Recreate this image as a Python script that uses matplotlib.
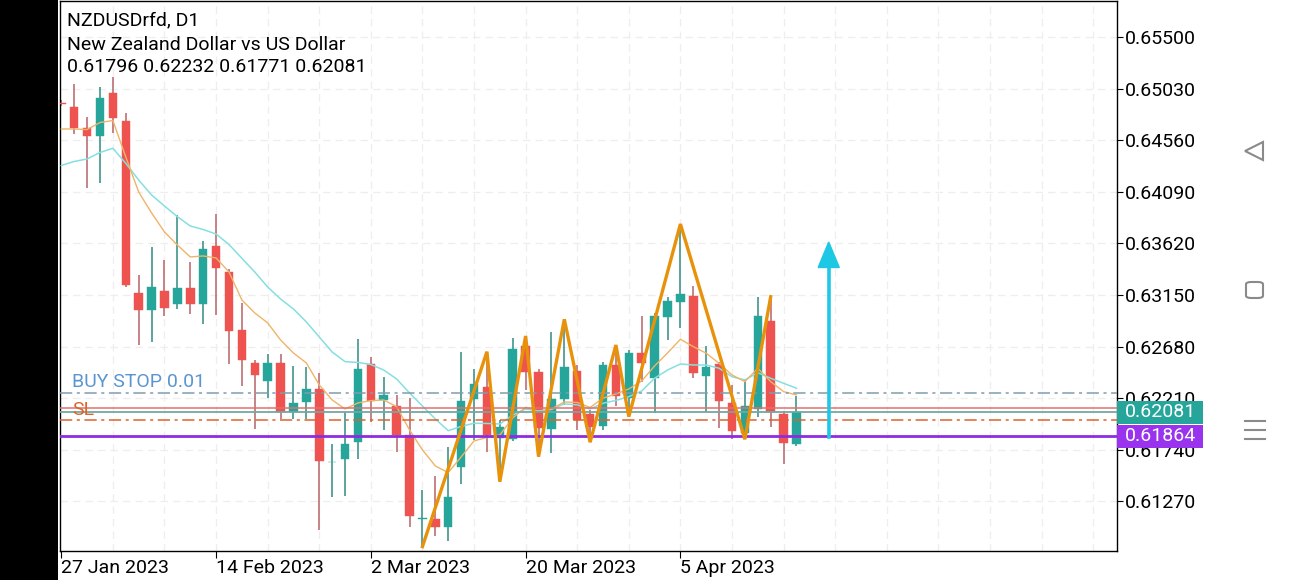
import matplotlib
matplotlib.use("Agg")
import matplotlib.pyplot as plt
import matplotlib.transforms as mtransforms
from matplotlib.patches import Rectangle, Polygon, FancyBboxPatch
import numpy as np

plt.rcParams["font.family"] = ["Roboto", "DejaVu Sans"]

# ── OHLC, one row per daily bar (index 0 = 27 Jan 2023) ──
opens = [0.64900, 0.64865, 0.64668, 0.64601, 0.64987, 0.64738, 0.63165, 0.63013, 0.63189, 0.63068,
         0.63211, 0.63065, 0.63599, 0.63362, 0.62831, 0.62527, 0.62366, 0.62527, 0.62087, 0.62172,
         0.62296, 0.61626, 0.61653, 0.61808, 0.62521, 0.62193, 0.62141, 0.61874, 0.61110, 0.61109,
         0.61039, 0.61580, 0.62199, 0.62309, 0.61851, 0.61835, 0.62685, 0.62451, 0.61926, 0.62199,
         0.62457, 0.62066, 0.61956, 0.62512, 0.62209, 0.62619, 0.62391, 0.62952, 0.63089, 0.63140,
         0.62414, 0.62518, 0.62169, 0.61895, 0.62111, 0.62916, 0.62066, 0.61796]
highs = [0.64930, 0.65072, 0.64774, 0.65042, 0.65136, 0.64805, 0.63332, 0.63584, 0.63468, 0.63878,
         0.63453, 0.63644, 0.63888, 0.63384, 0.63081, 0.62553, 0.62612, 0.62612, 0.62506, 0.62496,
         0.62436, 0.61789, 0.62087, 0.62746, 0.62588, 0.62400, 0.62239, 0.62209, 0.61373, 0.61498,
         0.61765, 0.62633, 0.62473, 0.62633, 0.62011, 0.62761, 0.62776, 0.62473, 0.62815, 0.62928,
         0.62512, 0.62102, 0.62542, 0.62694, 0.62649, 0.62961, 0.62986, 0.63134, 0.63796, 0.63232,
         0.62688, 0.62542, 0.62330, 0.62384, 0.63134, 0.63134, 0.62096, 0.62232]
lows = [0.64870, 0.64616, 0.64122, 0.64167, 0.64623, 0.63225, 0.62694, 0.62724, 0.62958, 0.63019,
        0.62977, 0.62885, 0.62963, 0.62521, 0.62323, 0.61929, 0.62209, 0.62023, 0.62017, 0.62023,
        0.61010, 0.61307, 0.61321, 0.61653, 0.61990, 0.61920, 0.61722, 0.61033, 0.60857, 0.60954,
        0.60911, 0.61428, 0.61824, 0.61722, 0.61449, 0.61820, 0.62284, 0.61677, 0.61713, 0.62148,
        0.61920, 0.61808, 0.61920, 0.62138, 0.62041, 0.62360, 0.62072, 0.62740, 0.62846, 0.62396,
        0.62087, 0.61935, 0.61835, 0.61835, 0.62035, 0.61950, 0.61610, 0.61771]
closes = [0.64890, 0.64674, 0.64598, 0.64942, 0.64759, 0.63241, 0.63013, 0.63225, 0.63028, 0.63216,
          0.63068, 0.63569, 0.63393, 0.62822, 0.62553, 0.62421, 0.62527, 0.62087, 0.62163, 0.62293,
          0.61637, 0.61632, 0.61792, 0.62475, 0.62187, 0.62239, 0.61874, 0.61136, 0.61115, 0.61036,
          0.61312, 0.62187, 0.62336, 0.61874, 0.61950, 0.62655, 0.62451, 0.61935, 0.62202, 0.62496,
          0.62011, 0.61950, 0.62512, 0.62230, 0.62619, 0.62527, 0.62958, 0.63095, 0.63159, 0.62436,
          0.62496, 0.62184, 0.61913, 0.62138, 0.62958, 0.62087, 0.61799, 0.62081]

# fast (orange) and slow (cyan) moving averages, read per bar
ma_fast = [0.64662, 0.64662, 0.64657, 0.64721, 0.64739, 0.64407, 0.64088, 0.63897, 0.63724, 0.63605,
           0.63496, 0.63505, 0.63487, 0.63359, 0.63104, 0.62986, 0.62895, 0.62740, 0.62621, 0.62530,
           0.62330, 0.62193, 0.62111, 0.62166, 0.62187, 0.62193, 0.62132, 0.61920, 0.61738, 0.61592,
           0.61531, 0.61674, 0.61820, 0.61851, 0.61874, 0.62029, 0.62127, 0.62087, 0.62111, 0.62175,
           0.62170, 0.62125, 0.62209, 0.62248, 0.62293, 0.62366, 0.62503, 0.62621, 0.62746, 0.62679,
           0.62619, 0.62527, 0.62421, 0.62360, 0.62482, 0.62360, 0.62269, 0.62239]
ma_slow = [0.64329, 0.64366, 0.64389, 0.64448, 0.64486, 0.64349, 0.64197, 0.64061, 0.63960, 0.63863,
           0.63778, 0.63746, 0.63705, 0.63610, 0.63484, 0.63359, 0.63222, 0.63113, 0.63022, 0.62904,
           0.62767, 0.62630, 0.62542, 0.62535, 0.62516, 0.62466, 0.62384, 0.62257, 0.62138, 0.62020,
           0.61913, 0.61952, 0.61981, 0.61979, 0.61974, 0.62056, 0.62111, 0.62093, 0.62107, 0.62157,
           0.62148, 0.62111, 0.62163, 0.62189, 0.62223, 0.62275, 0.62391, 0.62466, 0.62521, 0.62512,
           0.62512, 0.62482, 0.62405, 0.62375, 0.62442, 0.62391, 0.62345, 0.62300]

# zigzag swing points (bar index, price)
zz_idx = [28, 33, 34, 36, 37, 39, 41, 43, 44, 48, 53, 55]
zz_price = [0.60857, 0.62633, 0.61449, 0.62776, 0.61677, 0.62928, 0.61808, 0.62694, 0.62041,
            0.63796, 0.61835, 0.63134]

# order / price levels
buy_stop = 0.62254
ask = 0.62118
bid = 0.62081
sl = 0.62010
level_purple = 0.61864

# arrow (bar index, from price, to price)
arrow_x = 59.5
arrow_from = 0.61859
arrow_to = 0.63632

yticks = [0.61270, 0.61740, 0.62210, 0.62680, 0.63150, 0.63620, 0.64090, 0.64560, 0.65030, 0.65500]
date_idx = [0, 12, 24, 36, 48]
date_labels = ["27 Jan 2023", "14 Feb 2023", "2 Mar 2023", "20 Mar 2023", "5 Apr 2023"]

UP = "#26a69a"
DOWN = "#ef5350"
FS = 14

W, H = 1290, 580
fig = plt.figure(figsize=(W / 100, H / 100), dpi=100)
fig.patch.set_facecolor("white")
fig.patches.append(Rectangle((0, 0), 58 / W, 1, transform=fig.transFigure,
                             facecolor="black", edgecolor="none", zorder=0))

ax = fig.add_axes([60 / W, 29 / H, 1057 / W, 550 / H])
ax.set_xlim(-0.1, 81.85)
ax.set_ylim(0.60817, 0.65828)

# grid
for gx in range(4, 82, 4):
    ax.axvline(gx, color="#eeeeee", lw=0.9, ls=(0, (6, 4)), zorder=0)
for gy in yticks:
    ax.axhline(gy, color="#eeeeee", lw=0.9, ls=(0, (6, 4)), zorder=0)

# candles
x = np.arange(len(opens))
o = np.array(opens); c = np.array(closes)
colors = [UP if cc >= oo else DOWN for oo, cc in zip(o, c)]
wick_colors = ["#4f9d94" if cc >= oo else "#c07a7e" for oo, cc in zip(o, c)]
ax.vlines(x, lows, highs, colors=wick_colors, lw=1.3, zorder=2)
body_lo = np.minimum(o, c)
body_h = np.maximum(np.abs(c - o), 0.00003)
ax.bar(x, body_h, bottom=body_lo, width=0.66, color=colors, edgecolor=colors, lw=0.3, zorder=3)

# moving averages
ax.plot(x, ma_slow, color="#86dfe0", lw=1.1, zorder=4)
ax.plot(x, ma_fast, color="#efb468", lw=1.0, zorder=4)

# horizontal levels
ax.axhline(buy_stop, color="#7f9cb0", lw=1.1, ls=(0, (8, 3, 2, 3)), zorder=5)
ax.axhline(ask, color="#e07070", lw=1.1, zorder=5)
ax.axhline(bid, color="#74a8a0", lw=1.3, zorder=5)
ax.axhline(sl, color="#e0602c", lw=1.1, ls=(0, (8, 3, 2, 3)), zorder=5)
ax.axhline(level_purple, color="#8e2be0", lw=2, zorder=5)

ax.text(0.85, 0.62357, "BUY STOP 0.01", color="#5b95d0", fontsize=FS, va="center", ha="left", zorder=6)
ax.text(0.85, 0.62102, "SL", color="#d9652b", fontsize=FS, va="center", ha="left", zorder=6)

# zigzag
ax.plot(zz_idx, zz_price, color="#e8920c", lw=2.4, zorder=6, solid_joinstyle="miter")

# arrow
head_base = arrow_to - 0.00232
ax.plot([arrow_x, arrow_x], [arrow_from, head_base], color="#1ec8e4", lw=2.6, zorder=7)
ax.add_patch(Polygon([[arrow_x - 0.82, head_base], [arrow_x + 0.82, head_base], [arrow_x, arrow_to]],
                     closed=True, color="#1ec8e4", zorder=7))

# axes styling
for s in ax.spines.values():
    s.set_color("black")
    s.set_linewidth(1.0)
ax.yaxis.tick_right()
ax.set_yticks(yticks)
ax.set_yticklabels([f"{v:.5f}" for v in yticks])
ax.set_xticks(date_idx)
ax.set_xticklabels(date_labels, ha="left")
ax.tick_params(axis="y", direction="out", length=4, pad=2, labelsize=FS, colors="black")
ax.tick_params(axis="x", direction="out", length=5, pad=1, labelsize=FS, colors="black")
for lab in ax.get_xticklabels():
    lab.set_horizontalalignment("left")

# price boxes on the right scale
trans = mtransforms.blended_transform_factory(ax.transAxes, ax.transData)
box_w = 86 / 1057
px = (0.65828 - 0.60817) / 550
ax.add_patch(Rectangle((1.0, ask - 2 * px), box_w, 3 * px, transform=trans,
                       facecolor="#e05c5c", edgecolor="none", clip_on=False, zorder=10))
for val, col in [(bid, "#26a69a"), (level_purple, "#9933ee")]:
    ax.add_patch(Rectangle((1.0, val - 11.5 * px), box_w, 23 * px, transform=trans,
                           facecolor=col, edgecolor="none", clip_on=False, zorder=10))
    ax.text(1.0 + box_w / 2, val, f"{val:.5f}", transform=trans, color="white",
            fontsize=FS, ha="center", va="center", zorder=11, clip_on=False)

# header
ax.text(7 / 1057, 1 - 19 / 550, "NZDUSDrfd, D1", transform=ax.transAxes, fontsize=FS, va="center")
ax.text(7 / 1057, 1 - 44 / 550, "New Zealand Dollar vs US Dollar", transform=ax.transAxes,
        fontsize=FS, va="center")
ax.text(7 / 1057, 1 - 66 / 550, f"{opens[-1]:.5f} {highs[-1]:.5f} {lows[-1]:.5f} {closes[-1]:.5f}",
        transform=ax.transAxes, fontsize=FS, va="center")

# phone navigation icons
icon = "#8a8a8a"
fig.patches.append(Polygon([[1263 / W, 1 - 142 / H], [1263 / W, 1 - 160 / H], [1245 / W, 1 - 151 / H]],
                           closed=True, fill=False, edgecolor=icon, lw=1.5, transform=fig.transFigure))
fig.patches.append(FancyBboxPatch((1246 / W, 1 - 298 / H), 17 / W, 16 / H,
                                  boxstyle="round,pad=0,rounding_size=0.004", fill=False,
                                  edgecolor=icon, lw=1.5, transform=fig.transFigure))
for yy in (421, 430, 439):
    fig.lines.append(plt.Line2D([1245 / W, 1265 / W], [1 - yy / H, 1 - yy / H], color=icon, lw=1.5,
                                transform=fig.transFigure))

fig.savefig("out.png", dpi=100)
